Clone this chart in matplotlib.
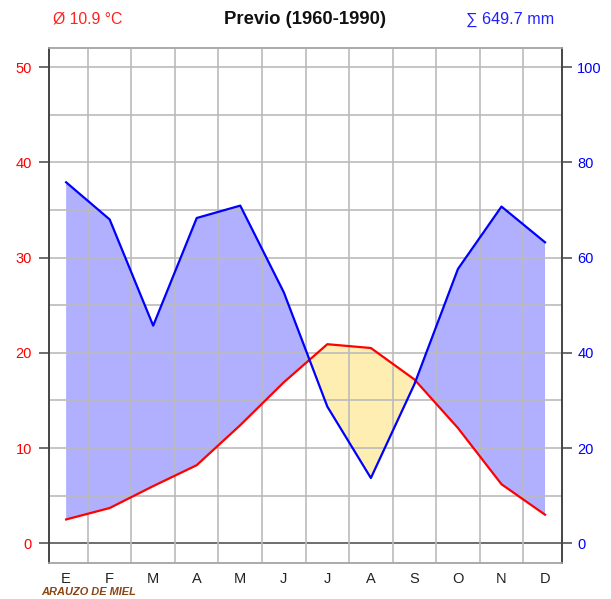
import matplotlib

matplotlib.use("Agg")
import matplotlib.pyplot as plt
import numpy as np

plt.rcParams["font.family"] = ["Liberation Sans", "DejaVu Sans"]

# climograma: temperatura media (°C) y precipitacion (mm) por mes
months = ["E", "F", "M", "A", "M", "J", "J", "A", "S", "O", "N", "D"]
temp = [2.5, 3.7, 6.0, 8.2, 12.4, 16.9, 20.9, 20.5, 17.2, 12.1, 6.2, 3.0]
precip = [75.8, 68.0, 45.7, 68.3, 70.9, 52.7, 28.7, 13.7, 33.4, 57.6, 70.7, 63.2]
temp_ticks = [0, 10, 20, 30, 40, 50]
precip_ticks = [0, 20, 40, 60, 80, 100]
title = "Previo (1960-1990)"
mean_label = "Ø 10.9 °C"
sum_label = "∑ 649.7 mm"
place = "ARAUZO DE MIEL"

x = np.arange(len(months))
t = np.array(temp)
p_half = np.array(precip) / 2.0  # precip drawn on temp scale (1 °C = 2 mm)

fig = plt.figure(figsize=(6.11, 5.99), dpi=100)
ax = fig.add_axes([0.0797, 0.0606, 0.8401, 0.8593])
ax.set_xlim(-0.40, 11.39)
ax.set_ylim(-2.04, 52.0)

# humid / arid areas
ax.fill_between(x, t, p_half, where=p_half >= t, interpolate=True,
                color="#0000ff", alpha=0.31, lw=0, zorder=1)
ax.fill_between(x, t, p_half, where=p_half <= t, interpolate=True,
                color="#ffc800", alpha=0.30, lw=0, zorder=1)

# grid
for yv in np.arange(0, 55, 5):
    ax.axhline(yv, color="#555555" if yv == 0 else "#bbbbbb", lw=1.2, zorder=2)
for xv in np.arange(0.5, 11, 1):
    ax.axvline(xv, color="#bbbbbb", lw=1.2, zorder=2)

ax.plot(x, t, color="#ff0000", lw=1.6, zorder=4)
ax.plot(x, p_half, color="#0000ff", lw=1.6, zorder=4)

ax.set_xticks(x)
ax.set_xticklabels(months, fontsize=10.5, color="#222222")
ax.tick_params(axis="x", length=0, pad=6.5)
ax.set_yticks(temp_ticks)
ax.set_yticklabels([str(v) for v in temp_ticks], fontsize=10.5, color="#ff0000")
ax.tick_params(axis="y", direction="out", length=7, width=1.2, color="#555555", pad=5)

ax2 = ax.twinx()
ax2.set_ylim(-4.08, 104.0)
ax2.set_yticks(precip_ticks)
ax2.set_yticklabels([str(v) for v in precip_ticks], fontsize=10.5, color="#0000ff")
ax2.tick_params(axis="y", direction="out", length=7, width=1.2, color="#555555", pad=4)

for a in (ax, ax2):
    a.spines["top"].set_color("#aaaaaa")
    a.spines["bottom"].set_color("#aaaaaa")
    a.spines["left"].set_color("#444444")
    a.spines["right"].set_color("#444444")
    for s in a.spines.values():
        s.set_linewidth(1.2)

fig.text(0.5, 0.968, title, ha="center", va="center", fontsize=13.3,
         fontweight="bold", color="#111111")
fig.text(0.087, 0.968, mean_label, ha="left", va="center", fontsize=11.3,
         color="#ff2020")
fig.text(0.907, 0.968, sum_label, ha="right", va="center", fontsize=11.6,
         color="#2020ff")
fig.text(0.068, 0.012, place, ha="left", va="center", fontsize=7.9,
         fontweight="bold", fontstyle="italic", color="#8b4513")

fig.savefig("out.png", dpi=100)
